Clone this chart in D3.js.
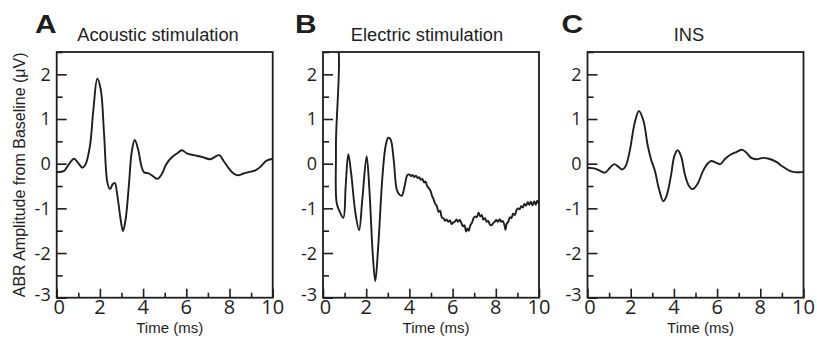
<!DOCTYPE html>
<html>
<head>
<meta charset="utf-8">
<script src="https://cdn.jsdelivr.net/npm/d3@7"></script>
<style>
  body { margin: 0; background: #fff; }
  svg { display: block; }
</style>
</head>
<body>
<div id="chart"></div>
<script>
// panel titles + letters
const panelLetters = ["A", "B", "C"];
const panelTitles = ["Acoustic stimulation", "Electric stimulation", "INS"];
const xTickLabels = [0, 2, 4, 6, 8, 10];
const yTickLabels = [-3, -2, -1, 0, 1, 2];
const yLabel = "ABR Amplitude from Baseline (\u03bcV)";
const xLabel = "Time (ms)";

// traces, [time ms, amplitude uV]
const acousticTrace = [
  [0, -0.19], [0.34, -0.16], [0.57, -0.01], [0.8, 0.11], [0.99, 0.02], [1.19, -0.09],
  [1.34, -0.01], [1.54, 0.4], [1.7, 1.22], [1.88, 1.9], [2.04, 1.66], [2.19, 0.69],
  [2.35, -0.43], [2.47, -0.57], [2.59, -0.46], [2.69, -0.43], [2.81, -0.72], [2.96, -1.25],
  [3.07, -1.51], [3.19, -1.25], [3.35, -0.43], [3.47, 0.25], [3.61, 0.53], [3.77, 0.32],
  [3.92, -0.05], [4.04, -0.19], [4.27, -0.22], [4.48, -0.29], [4.66, -0.34], [4.88, -0.22],
  [5.04, -0.04], [5.26, 0.11], [5.57, 0.23], [5.8, 0.3], [6.03, 0.23], [6.34, 0.19],
  [6.73, 0.15], [7.11, 0.1], [7.35, 0.16], [7.53, 0.19], [7.73, 0.06], [7.96, -0.1],
  [8.19, -0.22], [8.39, -0.26], [8.65, -0.22], [8.89, -0.19], [9.2, -0.15], [9.43, -0.07],
  [9.69, 0.06], [10, 0.11]
];
const electricTrace = [
  [0.03, -3.2], [0.07, 2.9], [0.55, 2.9], [0.6, 0.4], [0.63, -0.87], [0.76, -1.06],
  [0.94, -1.21], [1.05, -0.5], [1.17, 0.21], [1.3, -0.2], [1.5, -1.1], [1.67, -1.49],
  [1.82, -0.8], [2.02, 0.17], [2.15, -0.6], [2.3, -2.0], [2.42, -2.63], [2.55, -1.9],
  [2.75, -0.3], [2.9, 0.4], [3.02, 0.58], [3.13, 0.54], [3.27, 0.1], [3.41, -0.57],
  [3.52, -0.68], [3.64, -0.72], [3.78, -0.5], [3.9, -0.26], [4.0, -0.24], [4.08, -0.28],
  [4.15, -0.25], [4.22, -0.3], [4.3, -0.27], [4.38, -0.32], [4.45, -0.3], [4.52, -0.36],
  [4.6, -0.34], [4.68, -0.42], [4.75, -0.4], [4.82, -0.5], [4.9, -0.55], [4.97, -0.6],
  [5.05, -0.72], [5.12, -0.8], [5.2, -0.9], [5.27, -0.95], [5.35, -1.08], [5.42, -1.05],
  [5.5, -1.2], [5.58, -1.22], [5.65, -1.28], [5.72, -1.25], [5.8, -1.3], [5.88, -1.27],
  [5.95, -1.35], [6.02, -1.32], [6.1, -1.3], [6.18, -1.25], [6.25, -1.3], [6.33, -1.26],
  [6.4, -1.32], [6.48, -1.4], [6.55, -1.38], [6.62, -1.52], [6.68, -1.45], [6.75, -1.5],
  [6.82, -1.38], [6.9, -1.32], [6.97, -1.22], [7.05, -1.18], [7.12, -1.2], [7.2, -1.1],
  [7.28, -1.18], [7.35, -1.15], [7.42, -1.25], [7.5, -1.22], [7.58, -1.3], [7.65, -1.28],
  [7.72, -1.36], [7.8, -1.38], [7.88, -1.33], [7.95, -1.3], [8.02, -1.26], [8.1, -1.3],
  [8.18, -1.24], [8.25, -1.3], [8.32, -1.28], [8.4, -1.38], [8.45, -1.48], [8.5, -1.35],
  [8.58, -1.3], [8.65, -1.2], [8.72, -1.22], [8.8, -1.12], [8.88, -1.15], [8.95, -1.05],
  [9.02, -1.0], [9.1, -1.02], [9.18, -0.95], [9.25, -0.98], [9.32, -0.9], [9.4, -0.94],
  [9.48, -0.86], [9.55, -0.92], [9.62, -0.85], [9.7, -0.93], [9.78, -0.84], [9.85, -0.92],
  [9.92, -0.83], [10, -0.9]
];
const insTrace = [
  [0, -0.09], [0.35, -0.11], [0.58, -0.16], [0.81, -0.2], [1.04, -0.09], [1.24, -0.01],
  [1.43, -0.07], [1.61, -0.13], [1.77, -0.05], [1.97, 0.32], [2.17, 0.88], [2.38, 1.18],
  [2.59, 0.96], [2.79, 0.4], [2.94, 0.1], [3.12, -0.16], [3.31, -0.57], [3.51, -0.84],
  [3.66, -0.72], [3.86, -0.28], [4.02, 0.17], [4.17, 0.3], [4.33, 0.17], [4.51, -0.24],
  [4.7, -0.5], [4.87, -0.57], [5.1, -0.45], [5.35, -0.16], [5.58, 0.01], [5.73, 0.06],
  [5.97, 0.02], [6.15, -0.01], [6.35, 0.1], [6.58, 0.19], [6.89, 0.26], [7.17, 0.31],
  [7.35, 0.25], [7.58, 0.13], [7.82, 0.1], [8.12, 0.13], [8.4, 0.11], [8.74, 0.04],
  [9.05, -0.07], [9.36, -0.16], [9.59, -0.19], [9.9, -0.19], [10, -0.19]
];
const traces = [acousticTrace, electricTrace, insTrace];

const width = 817, height = 346;
const panelLeft = [56.7, 323, 587.5];
const plotW = 216;
const plotTop = 52, plotBottom = 297.7;
const ink = "#1e1e1e";

const svg = d3.select("#chart").append("svg")
  .attr("width", width)
  .attr("height", height)
  .style("font-family", "Liberation Sans, Arial, sans-serif");

const y = d3.scaleLinear().domain([-3, 2.5]).range([plotBottom, plotTop]);

panelLeft.forEach((left, i) => {
  const x = d3.scaleLinear().domain([0, 10]).range([left, left + plotW]);
  const g = svg.append("g");

  g.append("clipPath").attr("id", "clip" + i)
    .append("rect")
    .attr("x", left).attr("y", plotTop)
    .attr("width", plotW).attr("height", plotBottom - plotTop);

  // trace
  const line = d3.line()
    .x(d => x(d[0]))
    .y(d => y(d[1]))
    .curve(d3.curveCatmullRom.alpha(0.5));
  g.append("path")
    .datum(traces[i])
    .attr("clip-path", "url(#clip" + i + ")")
    .attr("d", line)
    .attr("fill", "none")
    .attr("stroke", ink)
    .attr("stroke-width", 1.9)
    .attr("stroke-linejoin", "round");

  // y ticks (inward), major every 1, minor every 0.5
  const yAxis = d3.axisRight(y)
    .tickValues(d3.range(-3, 2.51, 0.5))
    .tickSize(0)
    .tickFormat("");
  g.append("g")
    .attr("transform", `translate(${left},0)`)
    .call(yAxis)
    .call(a => a.select(".domain").remove())
    .selectAll(".tick line")
    .attr("x2", d => Number.isInteger(d) ? 10 : 6)
    .attr("stroke", ink)
    .attr("stroke-width", 1.6);

  // x ticks (inward), major every 2, minor odd
  const xAxis = d3.axisTop(x)
    .tickValues(d3.range(0, 10.1, 1))
    .tickSize(0)
    .tickFormat("");
  g.append("g")
    .attr("transform", `translate(0,${plotBottom})`)
    .call(xAxis)
    .call(a => a.select(".domain").remove())
    .selectAll(".tick line")
    .attr("y2", d => d % 2 === 0 ? -9 : -5)
    .attr("stroke", ink)
    .attr("stroke-width", 1.6);

  // frame
  g.append("rect")
    .attr("x", left).attr("y", plotTop)
    .attr("width", plotW).attr("height", plotBottom - plotTop)
    .attr("fill", "none")
    .attr("stroke", ink)
    .attr("stroke-width", 1.8);

  // tick labels
  g.selectAll(".ylab")
    .data(yTickLabels)
    .enter().append("text")
    .attr("x", left - 6)
    .attr("y", d => y(d) + (d === -3 ? -3 : 0))
    .attr("dy", "0.36em")
    .attr("text-anchor", "end")
    .attr("font-family", "Open Sans, sans-serif")
    .attr("font-size", 18)
    .attr("fill", ink)
    .text(d => d);

  g.selectAll(".xlab")
    .data(xTickLabels)
    .enter().append("text")
    .attr("x", d => x(d) + (d === 0 ? 2.5 : 0))
    .attr("y", 313.5)
    .attr("text-anchor", "middle")
    .attr("font-family", "Open Sans, sans-serif")
    .attr("font-size", 20)
    .attr("fill", ink)
    .text(d => d);

  g.append("text")
    .attr("x", left + plotW / 2 + 5)
    .attr("y", 332.5)
    .attr("text-anchor", "middle")
    .attr("font-size", 15)
    .attr("fill", ink)
    .text(xLabel);

  // title + panel letter
  g.append("text")
    .attr("x", [158, 427, 689][i])
    .attr("y", 40.5)
    .attr("text-anchor", "middle")
    .attr("font-size", 18.3)
    .attr("fill", ink)
    .text(panelTitles[i]);

  g.append("text")
    .attr("transform", `translate(${[35, 295, 561.5][i]},32.5) scale(1.15,1)`)
    .attr("font-size", 26)
    .attr("font-weight", "bold")
    .attr("fill", ink)
    .text(panelLetters[i]);
});

svg.append("text")
  .attr("transform", `translate(25,${(plotTop + plotBottom) / 2}) rotate(-90)`)
  .attr("text-anchor", "middle")
  .attr("font-size", 16)
  .attr("fill", ink)
  .text(yLabel);
</script>
</body>
</html>
